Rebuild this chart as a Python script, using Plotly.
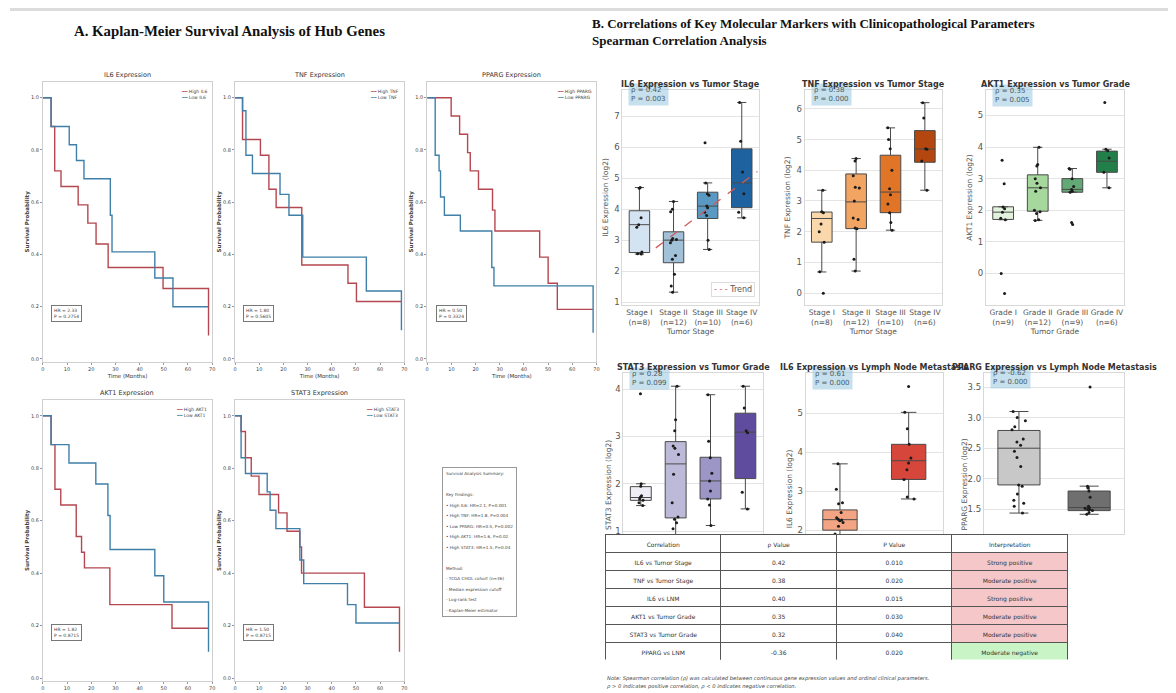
import plotly.graph_objects as go

W, H = 1176, 693
OFF = 8  # page body margin offset of the embedded figure

# ---------------- Kaplan-Meier data (months, survival probability) ----------------
km_genes = ["IL6", "TNF", "PPARG", "AKT1", "STAT3"]

il6_high_t = [0, 3.4, 4.9, 7.5, 14.6, 18.6, 22.0, 27.0, 49.7, 68.5, 68.5]
il6_high_s = [1.0, 0.89, 0.72, 0.66, 0.59, 0.52, 0.44, 0.35, 0.27, 0.27, 0.09]
il6_low_t = [0, 3.4, 10.9, 13.9, 17.0, 27.9, 28.6, 46.3, 53.8, 68.3]
il6_low_s = [1.0, 0.89, 0.82, 0.76, 0.69, 0.55, 0.41, 0.31, 0.20, 0.20]

tnf_high_t = [0, 3.1, 10.5, 14.0, 17.0, 27.6, 46.7, 50.2, 68.8]
tnf_high_s = [1.0, 0.84, 0.78, 0.65, 0.58, 0.36, 0.29, 0.22, 0.22]
tnf_low_t = [0, 3.1, 4.5, 7.2, 18.6, 22.3, 28.0, 54.3, 68.8, 68.8]
tnf_low_s = [1.0, 0.95, 0.78, 0.71, 0.63, 0.55, 0.39, 0.26, 0.26, 0.11]

pparg_high_t = [0, 9.9, 13.4, 16.7, 17.8, 21.2, 27.0, 28.0, 46.5, 50.0, 53.8, 68.6]
pparg_high_s = [1.0, 0.93, 0.86, 0.79, 0.72, 0.65, 0.57, 0.49, 0.39, 0.29, 0.19, 0.19]
pparg_low_t = [0, 3.3, 4.9, 5.5, 7.1, 13.7, 26.7, 27.6, 68.6, 68.6]
pparg_low_s = [1.0, 0.78, 0.72, 0.62, 0.55, 0.49, 0.35, 0.28, 0.28, 0.10]

akt1_high_t = [0, 3.4, 5.0, 7.4, 13.8, 16.0, 17.2, 27.7, 53.4, 68.5]
akt1_high_s = [1.0, 0.89, 0.72, 0.66, 0.54, 0.48, 0.42, 0.28, 0.19, 0.19]
akt1_low_t = [0, 3.4, 10.8, 21.9, 26.9, 27.8, 46.3, 50.0, 68.5, 68.5]
akt1_low_s = [1.0, 0.89, 0.82, 0.74, 0.62, 0.49, 0.39, 0.29, 0.29, 0.10]

stat3_high_t = [0, 2.5, 4.3, 6.7, 9.9, 18.0, 21.5, 26.8, 27.5, 53.5, 68.0, 68.0]
stat3_high_s = [1.0, 0.94, 0.84, 0.77, 0.70, 0.63, 0.56, 0.50, 0.40, 0.27, 0.27, 0.10]
stat3_low_t = [0, 2.5, 4.3, 13.3, 14.5, 16.9, 26.8, 28.4, 46.5, 50.0, 68.0]
stat3_low_s = [1.0, 0.84, 0.78, 0.71, 0.64, 0.57, 0.45, 0.36, 0.28, 0.21, 0.21]

km_hr = ["HR = 2.33", "HR = 1.80", "HR = 0.50", "HR = 1.82", "HR = 1.50"]
km_p = ["P = 0.2754", "P = 0.5605", "P = 0.3324", "P = 0.8715", "P = 0.8715"]

km_xticks = [0, 10, 20, 30, 40, 50, 60, 70]
km_yticks = [0.0, 0.2, 0.4, 0.6, 0.8, 1.0]
km_yticktext = ["0.0", "0.2", "0.4", "0.6", "0.8", "1.0"]

summary_lines = [
    "Survival Analysis Summary:", "", "Key Findings:",
    "• High IL6: HR=2.1, P=0.001", "• High TNF: HR=1.8, P=0.004",
    "• Low PPARG: HR=0.5, P=0.002", "• High AKT1: HR=1.6, P=0.02",
    "• High STAT3: HR=1.5, P=0.04", "", "Method:",
    "- TCGA CHOL cohort (n=36)", "- Median expression cutoff",
    "- Log-rank test", "- Kaplan-Meier estimator",
]

# ---------------- Box plot data ----------------
stage_labels = ["Stage I<br>(n=8)", "Stage II<br>(n=12)", "Stage III<br>(n=10)", "Stage IV<br>(n=6)"]
grade_labels = ["Grade I<br>(n=9)", "Grade II<br>(n=12)", "Grade III<br>(n=9)", "Grade IV<br>(n=6)"]
lnm_labels = ["No LNM", "LNM"]

il6_stage_q1 = [2.60, 2.27, 3.70, 4.05]
il6_stage_med = [3.50, 3.00, 4.10, 4.85]
il6_stage_q3 = [3.95, 3.27, 4.55, 5.95]
il6_stage_lo = [2.55, 1.32, 2.70, 3.72]
il6_stage_hi = [4.70, 4.25, 4.85, 7.45]
il6_stage_pts = [
    [4.70, 4.68, 3.72, 3.50, 3.42, 2.62, 2.56, 2.55],
    [4.25, 4.00, 3.92, 3.05, 3.02, 3.00, 2.92, 2.50, 2.38, 1.90, 1.52, 1.32],
    [6.15, 4.85, 4.50, 4.45, 4.10, 4.05, 3.90, 3.80, 3.00, 2.70],
    [7.45, 6.20, 5.20, 4.50, 3.90, 3.72],
]
trend_x = [0.48, 3.46]
trend_y = [2.75, 5.22]

tnf_stage_q1 = [1.66, 2.10, 2.62, 4.26]
tnf_stage_med = [2.43, 2.97, 3.29, 4.69]
tnf_stage_q3 = [2.64, 3.88, 4.49, 5.29]
tnf_stage_lo = [0.69, 0.72, 2.05, 3.35]
tnf_stage_hi = [3.35, 4.38, 5.38, 6.20]
tnf_stage_pts = [
    [3.35, 2.65, 2.62, 2.25, 2.00, 1.66, 0.70, 0.00],
    [4.38, 4.30, 3.82, 3.45, 3.42, 3.00, 2.45, 2.40, 2.12, 2.10, 1.10, 0.72],
    [5.38, 5.00, 4.70, 4.00, 3.40, 3.20, 2.90, 2.62, 2.30, 2.05],
    [6.20, 5.70, 4.70, 4.68, 4.30, 3.35],
]

akt1_grade_q1 = [1.71, 1.97, 2.57, 3.20]
akt1_grade_med = [1.94, 2.71, 2.66, 3.55]
akt1_grade_q3 = [2.11, 3.12, 3.00, 3.87]
akt1_grade_lo = [1.70, 1.68, 2.57, 2.71]
akt1_grade_hi = [2.11, 3.99, 3.32, 3.93]
akt1_grade_pts = [
    [3.58, 2.84, 2.10, 2.05, 1.94, 1.75, 1.70, 0.00, -0.63],
    [3.99, 3.45, 3.40, 3.00, 2.85, 2.60, 2.71, 2.00, 1.95, 1.90, 1.70, 1.68],
    [3.32, 3.30, 3.00, 2.75, 2.66, 2.60, 2.57, 1.61, 1.55],
    [5.41, 3.93, 3.88, 3.65, 3.20, 2.71],
]

stat3_grade_q1 = [1.65, 1.28, 1.68, 2.11]
stat3_grade_med = [1.71, 2.42, 2.06, 3.09]
stat3_grade_q3 = [1.94, 2.89, 2.56, 3.49]
stat3_grade_lo = [1.54, 0.90, 1.12, 1.47]
stat3_grade_hi = [2.00, 4.06, 3.88, 4.06]
stat3_grade_pts = [
    [3.90, 2.00, 1.95, 1.75, 1.72, 1.68, 1.65, 1.60, 1.54],
    [4.06, 3.35, 3.12, 2.80, 2.75, 2.62, 2.20, 1.60, 1.30, 1.25, 1.18, 1.05],
    [3.88, 2.90, 2.55, 2.22, 2.06, 1.85, 1.68, 1.55, 1.12],
    [4.06, 3.60, 3.12, 3.08, 1.82, 1.47],
]

il6_lnm_q1 = [2.00, 3.30]
il6_lnm_med = [2.27, 3.78]
il6_lnm_q3 = [2.52, 4.20]
il6_lnm_lo = [1.50, 2.80]
il6_lnm_hi = [3.70, 5.02]
il6_lnm_pts = [
    [3.70, 3.05, 2.70, 2.68, 2.45, 2.32, 2.28, 2.26, 2.24, 2.20, 2.10, 1.90, 1.80, 1.60, 1.50],
    [5.68, 5.02, 4.60, 4.20, 3.85, 3.72, 3.55, 3.30, 2.85, 2.80],
]

pparg_lnm_q1 = [1.90, 1.48]
pparg_lnm_med = [2.50, 1.53]
pparg_lnm_q3 = [2.79, 1.80]
pparg_lnm_lo = [1.44, 1.42]
pparg_lnm_hi = [3.10, 1.88]
pparg_lnm_pts = [
    [3.10, 3.00, 2.95, 2.85, 2.80, 2.65, 2.60, 2.55, 2.45, 2.35, 2.20, 1.90, 1.88, 1.75, 1.65, 1.60, 1.55, 1.44],
    [3.50, 1.88, 1.85, 1.80, 1.70, 1.55, 1.53, 1.52, 1.50, 1.50, 1.48, 1.45, 1.42],
]

# ---------------- Table data ----------------
tbl_header = ["Correlation", "ρ Value", "P Value", "Interpretation"]
tbl_corr = ["IL6 vs Tumor Stage", "TNF vs Tumor Stage", "IL6 vs LNM",
            "AKT1 vs Tumor Grade", "STAT3 vs Tumor Grade", "PPARG vs LNM"]
tbl_rho = ["0.42", "0.38", "0.40", "0.35", "0.32", "-0.36"]
tbl_p = ["0.010", "0.020", "0.015", "0.030", "0.040", "0.020"]
tbl_interp = ["Strong positive", "Moderate positive", "Strong positive",
              "Moderate positive", "Moderate positive", "Moderate negative"]

# ---------------- styling ----------------
RED = "#b4474f"
BLUE = "#3f7fa8"
BOXLINE = "#4a4a4a"
blues = ["#d4e3f1", "#a0c1d8", "#5a9ac2", "#1f62a0"]
oranges = ["#fbd8ab", "#f2a463", "#e07427", "#b3470f"]
greens = ["#e2f2dd", "#a6d79d", "#62a977", "#237f4a"]
purples = ["#eeecf5", "#bdbad9", "#9b96c5", "#5f4c9e"]
il6_lnm_colors = ["#f3a583", "#d6463b"]
pparg_lnm_colors = ["#c8c8c8", "#6f6f6f"]
POS_FILL = "#f6c7c9"
NEG_FILL = "#c9f5c6"


def dx(l, r):
    return [(l - OFF) / W, (r - OFF) / W]


def dy(t, b):
    return [1 - (b - OFF) / H, 1 - (t - OFF) / H]


def px(x):
    return (x - OFF) / W


def py(y):
    return 1 - (y - OFF) / H


def ax_names(n):
    s = "" if n == 1 else str(n)
    return "xaxis" + s, "yaxis" + s, "x" + s, "y" + s


fig = go.Figure()
layout = dict(
    width=W, height=H, margin=dict(l=0, r=0, t=0, b=0),
    paper_bgcolor="white", plot_bgcolor="white", showlegend=False,
    font=dict(family="DejaVu Sans", color="#333"),
)
annotations = []
shapes = []

# top gray band
shapes.append(dict(type="rect", xref="paper", yref="paper", x0=0, x1=1, y0=py(11), y1=min(1, py(7)),
                   fillcolor="#dcdcdc", line=dict(width=0), layer="below"))

# panel titles
annotations.append(dict(text="<b>A. Kaplan-Meier Survival Analysis of Hub Genes</b>", x=px(228), y=py(31),
                        xref="paper", yref="paper", showarrow=False, xanchor="center", yanchor="middle",
                        font=dict(family="Liberation Serif", size=14.8, color="#111")))
annotations.append(dict(text="<b>B. Correlations of Key Molecular Markers with Clinicopathological Parameters</b>",
                        x=px(590), y=py(24), xref="paper", yref="paper", showarrow=False, xanchor="left",
                        yanchor="middle", font=dict(family="Liberation Serif", size=13, color="#111")))
annotations.append(dict(text="<b>Spearman Correlation Analysis</b>",
                        x=px(590), y=py(41), xref="paper", yref="paper", showarrow=False, xanchor="left",
                        yanchor="middle", font=dict(family="Liberation Serif", size=13, color="#111")))

# ---------------- Kaplan-Meier panels ----------------
km_high = [(il6_high_t, il6_high_s), (tnf_high_t, tnf_high_s), (pparg_high_t, pparg_high_s),
           (akt1_high_t, akt1_high_s), (stat3_high_t, stat3_high_s)]
km_low = [(il6_low_t, il6_low_s), (tnf_low_t, tnf_low_s), (pparg_low_t, pparg_low_s),
          (akt1_low_t, akt1_low_s), (stat3_low_t, stat3_low_s)]
km_cols = [(41, 211), (234, 404), (427, 597), (41, 211), (234, 404)]
km_rows = [(98, 360), (98, 360), (98, 360), (417, 680), (417, 680)]
KM_YR = [-0.01, 1.06]

for k, gene in enumerate(km_genes):
    n = k + 1
    xa, ya, xr, yr = ax_names(n)
    l, r = km_cols[k]
    y1px, y0px = km_rows[k]
    unit = y0px - y1px
    top = y1px - (KM_YR[1] - 1) * unit
    bot = y0px - KM_YR[0] * unit
    ht, hs = km_high[k]
    lt, ls = km_low[k]
    fig.add_trace(go.Scatter(x=ht, y=hs, mode="lines", line=dict(color=RED, width=1.4, shape="hv"),
                             xaxis=xr, yaxis=yr, hoverinfo="skip"))
    fig.add_trace(go.Scatter(x=lt, y=ls, mode="lines", line=dict(color=BLUE, width=1.4, shape="hv"),
                             xaxis=xr, yaxis=yr, hoverinfo="skip"))
    xtitle = dict(text="Time (Months)", font=dict(size=5.5, color="#333"), standoff=3) if k < 3 else None
    layout[xa] = dict(domain=dx(l, r), anchor=yr, range=[0, 70], tickvals=km_xticks,
                      tickfont=dict(size=5, color="#444"), showgrid=False, zeroline=False,
                      showline=True, mirror=True, linecolor="#cfcfcf", ticks="outside", ticklen=2,
                      tickcolor="#999", tickangle=0, title=xtitle)
    layout[ya] = dict(domain=dy(top, bot), anchor=xr, range=KM_YR, tickvals=km_yticks,
                      ticktext=km_yticktext, tickfont=dict(size=5, color="#444"), showgrid=False,
                      zeroline=False, showline=True, mirror=True, linecolor="#cfcfcf", ticks="outside",
                      ticklen=2, tickcolor="#999",
                      title=dict(text="<b>Survival Probability</b>", font=dict(size=5.5, color="#444"), standoff=0))
    annotations.append(dict(text=f"{gene} Expression", x=px((l + r) / 2), y=py(top - 7), xref="paper",
                            yref="paper", showarrow=False, xanchor="center", yanchor="middle",
                            font=dict(size=6.5, color="#333")))
    annotations.append(dict(
        text=f"<span style='color:{RED}'>━━</span> High {gene}<br><span style='color:{BLUE}'>━━</span> Low {gene}",
        x=px(r - 3), y=py(top + 5), xref="paper", yref="paper", showarrow=False, xanchor="right",
        yanchor="top", align="left", font=dict(size=4.5, color="#444")))
    annotations.append(dict(text=f"{km_hr[k]}<br>{km_p[k]}", x=3.5, y=0.175, xref=xr, yref=yr,
                            showarrow=False, xanchor="left", yanchor="middle", align="left",
                            font=dict(size=4.5, color="#444"), bordercolor="#777", borderwidth=1,
                            borderpad=2, bgcolor="white"))

# summary box
summary_text = "<br>".join(f"<span style='font-size:4.2px'>{s}</span>" if s else "" for s in summary_lines)
annotations.append(dict(text=summary_text, x=px(442), y=py(468), xref="paper", yref="paper", showarrow=False,
                        xanchor="left", yanchor="top", align="left", font=dict(size=8.1, color="#444"),
                        bordercolor="#999", borderwidth=1, borderpad=3, bgcolor="white"))


# ---------------- Box plot panels ----------------
def add_box_panel(n, box, yrange, ytv, ytt, xlabels, xtitle, ytitle, q1, med, q3, lo, hi, pts,
                  colors, title, title_y, stat_text, stat_y, width=0.6, show_x=True, ytitle_pos=None):
    xa, ya, xr, yr = ax_names(n)
    l, t, r, b = box
    for i in range(len(q1)):
        fig.add_trace(go.Box(x=[i], q1=[q1[i]], median=[med[i]], q3=[q3[i]], lowerfence=[lo[i]],
                             upperfence=[hi[i]], fillcolor=colors[i], line=dict(color=BOXLINE, width=1),
                             width=width, whiskerwidth=0.45, boxpoints=False, xaxis=xr, yaxis=yr,
                             hoverinfo="skip"))
    xs, ys = [], []
    for i, arr in enumerate(pts):
        xs += [i] * len(arr)
        ys += arr
    fig.add_trace(go.Box(x=xs, y=ys, boxpoints="all", jitter=0.35, pointpos=0,
                         marker=dict(color="#1c1c1c", size=3), line=dict(color="rgba(0,0,0,0)", width=0),
                         fillcolor="rgba(0,0,0,0)", width=width, xaxis=xr, yaxis=yr, hoverinfo="skip"))
    layout[xa] = dict(domain=dx(l, r), anchor=yr, range=[-0.5, len(q1) - 0.5],
                      tickvals=list(range(len(q1))), ticktext=xlabels, tickfont=dict(size=7.5, color="#555"),
                      tickangle=0, showticklabels=show_x,
                      showgrid=False, zeroline=False, showline=True, mirror=True, linecolor="#d8d8d8",
                      ticks="", title=dict(text=xtitle, font=dict(size=7.5, color="#555"), standoff=2) if show_x else None)
    ytitle_dict = dict(text=ytitle, font=dict(size=7.5, color="#555"), standoff=4) if ytitle_pos is None else None
    layout[ya] = dict(domain=dy(t, b), anchor=xr, range=yrange, tickvals=ytv, ticktext=ytt,
                      tickfont=dict(size=8.5, color="#555"), showgrid=True, gridcolor="#e4e4e4",
                      zeroline=False, showline=True, mirror=True, linecolor="#d8d8d8", ticks="",
                      title=ytitle_dict)
    if ytitle_pos is not None:
        annotations.append(dict(text=ytitle, x=px(ytitle_pos[0]), y=py(ytitle_pos[1]), xref="paper",
                                yref="paper", showarrow=False, textangle=-90, xanchor="center",
                                yanchor="middle", font=dict(size=7.5, color="#555")))
    annotations.append(dict(text=stat_text, x=px(l + 6), y=py(stat_y - 15.5), xref="paper", yref="paper",
                            showarrow=False, xanchor="left", yanchor="top", align="left",
                            font=dict(size=7, color="#4a5a66"), bgcolor="rgba(160,205,225,0.6)",
                            borderpad=2))
    annotations.append(dict(text=f"<b>{title}</b>", x=px((l + r) / 2), y=py(title_y), xref="paper",
                            yref="paper", showarrow=False, xanchor="center", yanchor="middle",
                            font=dict(size=8, color="#333")))


add_box_panel(6, (623, 90, 760, 306), [0.9, 7.86], [1, 2, 3, 4, 5, 6, 7], ["1", "2", "3", "4", "5", "6", "7"],
              stage_labels, "Tumor Stage", "IL6 Expression (log2)", il6_stage_q1, il6_stage_med,
              il6_stage_q3, il6_stage_lo, il6_stage_hi, il6_stage_pts, blues,
              "IL6 Expression vs Tumor Stage", 85, "ρ = 0.42<br>P = 0.003", 99)
fig.add_trace(go.Scatter(x=trend_x, y=trend_y, mode="lines", line=dict(color="#cd5c5c", width=1.3, dash="dash"),
                         xaxis="x6", yaxis="y6", hoverinfo="skip"))
annotations.append(dict(text="<span style='color:#cd5c5c'>- - -</span> Trend", x=px(756), y=py(290),
                        xref="paper", yref="paper", showarrow=False, xanchor="right", yanchor="middle",
                        font=dict(size=8, color="#555"), bordercolor="#dddddd", borderwidth=1,
                        borderpad=2, bgcolor="white"))

add_box_panel(7, (806, 90, 944, 306), [-0.39, 6.62], [0, 1, 2, 3, 4, 5, 6], ["0", "1", "2", "3", "4", "5", "6"],
              stage_labels, "Tumor Stage", "TNF Expression (log2)", tnf_stage_q1, tnf_stage_med,
              tnf_stage_q3, tnf_stage_lo, tnf_stage_hi, tnf_stage_pts, oranges,
              "TNF Expression vs Tumor Stage", 85, "ρ = 0.38<br>P = 0.000", 99)

add_box_panel(8, (988, 90, 1127, 306), [-1.0, 5.81], [0, 1, 2, 3, 4, 5], ["0", "1", "2", "3", "4", "5"],
              grade_labels, "Tumor Grade", "AKT1 Expression (log2)", akt1_grade_q1, akt1_grade_med,
              akt1_grade_q3, akt1_grade_lo, akt1_grade_hi, akt1_grade_pts, greens,
              "AKT1 Expression vs Tumor Grade", 85, "ρ = 0.35<br>P = 0.005", 100)

add_box_panel(9, (624, 374, 764, 536), [0.93, 4.34], [1, 2, 3, 4], ["1", "2", "3", "4"],
              grade_labels, "Tumor Grade", "STAT3 Expression (log2)", stat3_grade_q1, stat3_grade_med,
              stat3_grade_q3, stat3_grade_lo, stat3_grade_hi, stat3_grade_pts, purples,
              "STAT3 Expression vs Tumor Grade", 369, "ρ = 0.28<br>P = 0.099", 384,
              show_x=False, ytitle_pos=(609, 486))

add_box_panel(10, (807, 374, 945, 536), [1.89, 6.03], [2, 3, 4, 5], ["2", "3", "4", "5"],
              lnm_labels, "Lymph Node Metastasis", "IL6 Expression (log2)", il6_lnm_q1, il6_lnm_med,
              il6_lnm_q3, il6_lnm_lo, il6_lnm_hi, il6_lnm_pts, il6_lnm_colors,
              "IL6 Expression vs Lymph Node Metastasis", 369, "ρ = 0.61<br>P = 0.000", 384, width=0.5,
              show_x=False, ytitle_pos=(791, 490))

add_box_panel(11, (986, 374, 1127, 536), [1.09, 3.73], [1.5, 2.0, 2.5, 3.0, 3.5],
              ["1.5", "2.0", "2.5", "3.0", "3.5"],
              lnm_labels, "Lymph Node Metastasis", "PPARG Expression (log2)", pparg_lnm_q1, pparg_lnm_med,
              pparg_lnm_q3, pparg_lnm_lo, pparg_lnm_hi, pparg_lnm_pts, pparg_lnm_colors,
              "PPARG Expression vs Lymph Node Metastasis", 369, "ρ = -0.62<br>P = 0.000", 383,
              show_x=False, ytitle_pos=(967, 486))

# ---------------- Table ----------------
interp_fill = [NEG_FILL if "negative" in s else POS_FILL for s in tbl_interp]
fig.add_trace(go.Table(
    domain=dict(x=dx(606, 1070), y=dy(536, 662)),
    columnwidth=[1, 1, 1, 1],
    header=dict(values=tbl_header, fill_color="white", line=dict(color="#555", width=1),
                font=dict(size=6, color="#333", family="DejaVu Sans"), height=18, align="center"),
    cells=dict(values=[tbl_corr, tbl_rho, tbl_p, tbl_interp],
               fill_color=[["white"] * 6, ["white"] * 6, ["white"] * 6, interp_fill],
               line=dict(color="#555", width=1), font=dict(size=6, color="#333", family="DejaVu Sans"),
               height=18, align="center"),
))

annotations.append(dict(
    text="<i>Note: Spearman correlation (ρ) was calculated between continuous gene expression values and ordinal clinical parameters.</i>",
    x=px(606), y=py(680), xref="paper", yref="paper", showarrow=False, xanchor="left", yanchor="middle",
    font=dict(size=5.2, color="#444")))
annotations.append(dict(
    text="<i>ρ > 0 indicates positive correlation, ρ < 0 indicates negative correlation.</i>",
    x=px(606), y=py(688), xref="paper", yref="paper", showarrow=False, xanchor="left", yanchor="middle",
    font=dict(size=5.2, color="#444")))

layout["annotations"] = annotations
layout["shapes"] = shapes
fig.update_layout(**layout)
fig.write_html("out.html")
